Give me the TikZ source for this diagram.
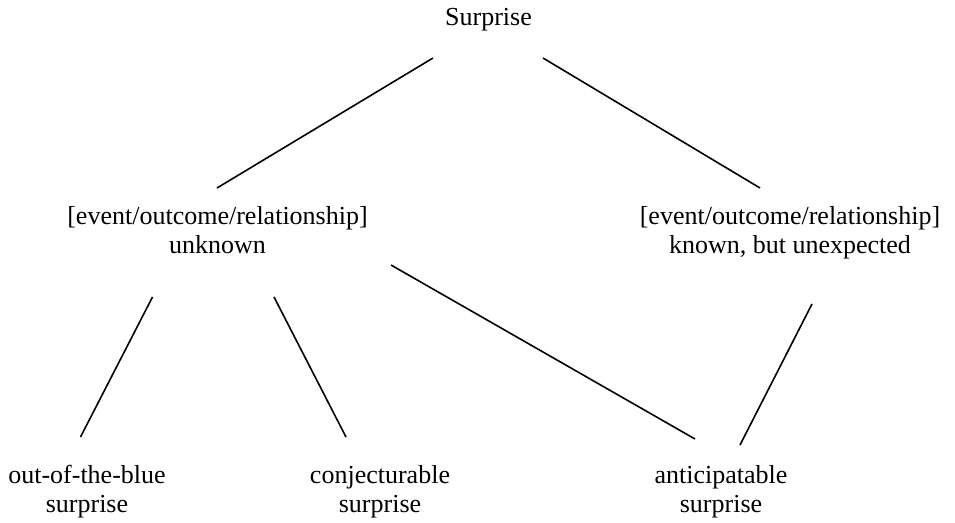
\documentclass[tikz,border=0pt]{standalone}
\usepackage{fontspec}
\setmainfont{Liberation Serif}
\begin{document}
\begin{tikzpicture}[x=1pt,y=-1pt,
  lbl/.style={anchor=north,inner sep=0pt,align=center,font=\fontsize{26}{29}\selectfont},
  conn/.style={line width=1.6pt,black}]
\useasboundingbox (0,0) rectangle (955,522);
\node[lbl] (sur) at (488.5,8) {Surprise};
\node[lbl] (unk) at (217.5,206) {[event/outcome/relationship]\\unknown};
\node[lbl] (kno) at (790,206) {[event/outcome/relationship]\\known, but unexpected};
\node[lbl] (oob) at (87,465) {out-of-the-blue\\surprise};
\node[lbl] (con) at (380,465) {conjecturable\\surprise};
\node[lbl] (ant) at (721,465) {anticipatable\\surprise};
\coordinate (s1) at (433,58);
\coordinate (s2) at (543,58);
\coordinate (u1) at (217,188);
\coordinate (k1) at (760,188);
\coordinate (u2) at (152.5,297);
\coordinate (u3) at (274,297);
\coordinate (u4) at (391,265);
\coordinate (k2) at (812,304);
\coordinate (o1) at (80.5,437);
\coordinate (c1) at (346,437);
\coordinate (a1) at (695,439);
\coordinate (a2) at (740,445);
\draw[conn] (s1) -- (u1);
\draw[conn] (s2) -- (k1);
\draw[conn] (u2) -- (o1);
\draw[conn] (u3) -- (c1);
\draw[conn] (u4) -- (a1);
\draw[conn] (k2) -- (a2);
\end{tikzpicture}
\end{document}
